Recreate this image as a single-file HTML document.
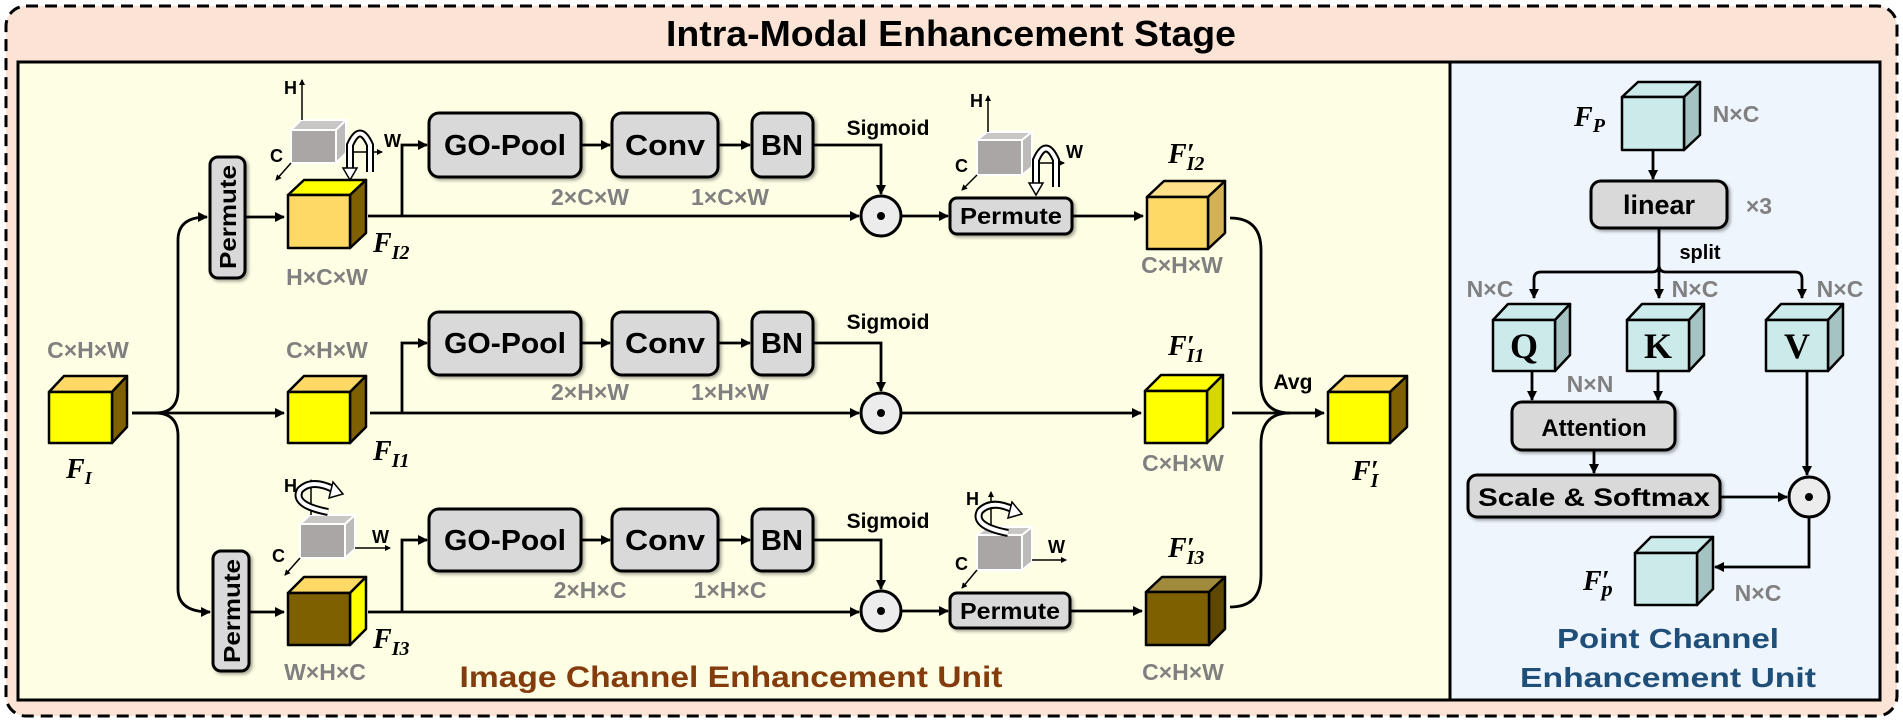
<!DOCTYPE html>
<html><head><meta charset="utf-8"><style>
html,body{margin:0;padding:0;background:#fff;}
svg{display:block;}
.b{font-family:"Liberation Sans",sans-serif;font-weight:bold;}
.g{font-family:"Liberation Sans",sans-serif;font-weight:bold;fill:#808080;font-size:23px;}
.m{font-family:"Liberation Serif",serif;font-weight:bold;font-style:italic;}
.box{fill:#d9d9d9;stroke:#000;stroke-width:3;}
.ln{fill:none;stroke:#000;stroke-width:2.8;}
.ax{fill:none;stroke:#000;stroke-width:1.5;}
</style></head><body>
<svg width="1903" height="724" viewBox="0 0 1903 724" xmlns="http://www.w3.org/2000/svg">
<defs>
<marker id="a" markerWidth="10" markerHeight="10" refX="9" refY="5" orient="auto" markerUnits="userSpaceOnUse"><path d="M0,0 L10,5 L0,10 z" fill="#000"/></marker>
<marker id="s" markerWidth="6" markerHeight="6" refX="5" refY="3" orient="auto" markerUnits="userSpaceOnUse"><path d="M0,0 L6,3 L0,6 z" fill="#000"/></marker>
<filter id="sh" x="-10%" y="-10%" width="130%" height="140%"><feDropShadow dx="2" dy="2" stdDeviation="1.5" flood-color="#000" flood-opacity="0.35"/></filter>
</defs>
<rect x="6" y="6" width="1891" height="710" rx="20" fill="#fbe4d6" stroke="#000" stroke-width="3" stroke-dasharray="12,7"/>
<text x="951" y="46" class="b" font-size="36" text-anchor="middle" textLength="570" lengthAdjust="spacingAndGlyphs">Intra-Modal Enhancement Stage</text>
<rect x="18" y="62" width="1432" height="638" fill="#fefee4" stroke="#000" stroke-width="3"/>
<rect x="1450" y="62" width="430" height="638" fill="#eef5fd" stroke="#000" stroke-width="3"/>

<g stroke="#000" stroke-width="2.5" stroke-linejoin="round">
<polygon points="49,392 64,376 127,376 112,392" fill="#ffd966"/><polygon points="112,392 127,376 127,427 112,443" fill="#7f6000"/><rect x="49" y="392" width="63" height="51" fill="#ffff00"/>
<polygon points="288,195 304,180 366,180 350,195" fill="#ffff00"/><polygon points="350,195 366,180 366,233 350,248" fill="#7f6000"/><rect x="288" y="195" width="62" height="53" fill="#ffd966"/>
<polygon points="288,392 304,376 366,376 350,392" fill="#ffd966"/><polygon points="350,392 366,376 366,427 350,443" fill="#7f6000"/><rect x="288" y="392" width="62" height="51" fill="#ffff00"/>
<polygon points="288,593 304,577 366,577 350,593" fill="#ffd966"/><polygon points="350,593 366,577 366,629 350,645" fill="#ffff00"/><rect x="288" y="593" width="62" height="52" fill="#7f6000"/>
<polygon points="1147,197 1164,181 1225,181 1208,197" fill="#ffe08a"/><polygon points="1208,197 1225,181 1225,233 1208,249" fill="#d4b056"/><rect x="1147" y="197" width="61" height="52" fill="#ffd966"/>
<polygon points="1145,391 1161,375 1223,375 1207,391" fill="#ffff00"/><polygon points="1207,391 1223,375 1223,427 1207,443" fill="#d6d600"/><rect x="1145" y="391" width="62" height="52" fill="#ffff00"/>
<polygon points="1146,592 1162,577 1225,577 1209,592" fill="#a08a3c"/><polygon points="1209,592 1225,577 1225,629 1209,645" fill="#5e4700"/><rect x="1146" y="592" width="63" height="53" fill="#7f6000"/>
<polygon points="1328,392 1345,376 1407,376 1390,392" fill="#ffd966"/><polygon points="1390,392 1407,376 1407,427 1390,443" fill="#7f6000"/><rect x="1328" y="392" width="62" height="51" fill="#ffff00"/>
</g>
<g stroke="#fff" stroke-width="2">
<polygon points="291,130 301,120 346,120 336,130" fill="#c9c6c6"/><polygon points="336,130 346,120 346,153 336,163" fill="#bdbaba"/><rect x="291" y="130" width="45" height="33" fill="#aaa6a6"/>
<polygon points="977,140 987,132 1032,132 1022,140" fill="#c9c6c6"/><polygon points="1022,140 1032,132 1032,167 1022,175" fill="#bdbaba"/><rect x="977" y="140" width="45" height="35" fill="#aaa6a6"/>
<polygon points="300,524 310,515 355,515 345,524" fill="#c9c6c6"/><polygon points="345,524 355,515 355,549 345,558" fill="#bdbaba"/><rect x="300" y="524" width="45" height="34" fill="#aaa6a6"/>
<polygon points="977,535 987,527 1032,527 1022,535" fill="#c9c6c6"/><polygon points="1022,535 1032,527 1032,562 1022,570" fill="#bdbaba"/><rect x="977" y="535" width="45" height="35" fill="#aaa6a6"/>
</g>
<g class="ax">
<path d="M302,120 V80" marker-end="url(#s)"/><path d="M291,163 L276,180" marker-end="url(#s)"/><path d="M346,152 H382" marker-end="url(#s)"/>
<path d="M988,132 V96" marker-end="url(#s)"/><path d="M977,175 L962,190" marker-end="url(#s)"/><path d="M1032,163 H1064" marker-end="url(#s)"/>
<path d="M311,515 V480" marker-end="url(#s)"/><path d="M300,558 L285,575" marker-end="url(#s)"/><path d="M355,548 H390" marker-end="url(#s)"/>
<path d="M991,527 V492" marker-end="url(#s)"/><path d="M977,570 L962,588" marker-end="url(#s)"/><path d="M1032,560 H1066" marker-end="url(#s)"/>
</g>
<g class="b" font-size="18">
<text x="284" y="94">H</text><text x="270" y="162">C</text><text x="384" y="147">W</text>
<text x="970" y="107">H</text><text x="955" y="172">C</text><text x="1066" y="158">W</text>
<text x="284" y="492">H</text><text x="272" y="562">C</text><text x="372" y="543">W</text>
<text x="966" y="505">H</text><text x="955" y="570">C</text><text x="1048" y="553">W</text>
</g>
<g fill="none" stroke-linecap="butt">
<path d="M350,170 V145 Q360,122 370,145 V172" stroke="#000" stroke-width="8"/><path d="M350,170 V145 Q360,122 370,145 V172" stroke="#fff" stroke-width="4"/>
<path d="M1036,185 V160 Q1046,137 1056,160 V187" stroke="#000" stroke-width="8"/><path d="M1036,185 V160 Q1046,137 1056,160 V187" stroke="#fff" stroke-width="4"/>
<path d="M328,512 Q292,505 300,490 Q312,478 335,490" stroke="#000" stroke-width="8"/><path d="M328,512 Q292,505 300,490 Q312,478 335,490" stroke="#fff" stroke-width="4"/>
<path d="M1008,533 Q972,526 980,511 Q992,499 1014,510" stroke="#000" stroke-width="8"/><path d="M1008,533 Q972,526 980,511 Q992,499 1014,510" stroke="#fff" stroke-width="4"/>
</g>
<g fill="#fff" stroke="#000" stroke-width="1.5">
<polygon points="343,168 357,168 350,180"/><polygon points="1029,183 1043,183 1036,195"/>
<polygon points="333,482 343,494 329,498"/><polygon points="1012,502 1022,514 1008,518"/>
</g>

<g filter="url(#sh)">
<rect x="210" y="157" width="35" height="121" rx="8" class="box"/>
<rect x="213" y="551" width="36" height="120" rx="8" class="box"/>
<rect x="429" y="113" width="152" height="64" rx="10" class="box"/><rect x="612" y="113" width="106" height="64" rx="10" class="box"/><rect x="752" y="113" width="61" height="64" rx="10" class="box"/>
<rect x="429" y="312" width="152" height="63" rx="10" class="box"/><rect x="612" y="312" width="106" height="63" rx="10" class="box"/><rect x="752" y="312" width="61" height="63" rx="10" class="box"/>
<rect x="429" y="509" width="152" height="62" rx="10" class="box"/><rect x="612" y="509" width="106" height="62" rx="10" class="box"/><rect x="752" y="509" width="61" height="62" rx="10" class="box"/>
<rect x="950" y="198" width="122" height="36" rx="7" class="box"/>
<rect x="950" y="593" width="120" height="35" rx="7" class="box"/>
</g>
<g class="b" font-size="29" text-anchor="middle">
<text x="505" y="155" textLength="122" lengthAdjust="spacingAndGlyphs">GO-Pool</text><text x="665" y="155" textLength="80" lengthAdjust="spacingAndGlyphs">Conv</text><text x="782" y="155">BN</text>
<text x="505" y="353" textLength="122" lengthAdjust="spacingAndGlyphs">GO-Pool</text><text x="665" y="353" textLength="80" lengthAdjust="spacingAndGlyphs">Conv</text><text x="782" y="353">BN</text>
<text x="505" y="550" textLength="122" lengthAdjust="spacingAndGlyphs">GO-Pool</text><text x="665" y="550" textLength="80" lengthAdjust="spacingAndGlyphs">Conv</text><text x="782" y="550">BN</text>
</g>
<g class="b" font-size="23" text-anchor="middle">
<text x="1011" y="224" textLength="102" lengthAdjust="spacingAndGlyphs">Permute</text>
<text x="1010" y="619" textLength="100" lengthAdjust="spacingAndGlyphs">Permute</text>
<text transform="translate(236,217) rotate(-90)" textLength="104" lengthAdjust="spacingAndGlyphs">Permute</text>
<text transform="translate(240,611) rotate(-90)" textLength="104" lengthAdjust="spacingAndGlyphs">Permute</text>
</g>
<g class="b" font-size="21" text-anchor="middle">
<text x="888" y="135">Sigmoid</text><text x="888" y="329">Sigmoid</text><text x="888" y="528">Sigmoid</text>
<text x="1293" y="389">Avg</text>
</g>
<g class="g" text-anchor="middle">
<text x="88" y="358">C×H×W</text><text x="327" y="358">C×H×W</text>
<text x="327" y="285">H×C×W</text><text x="325" y="680">W×H×C</text>
<text x="590" y="205">2×C×W</text><text x="730" y="205">1×C×W</text>
<text x="590" y="400">2×H×W</text><text x="730" y="400">1×H×W</text>
<text x="590" y="598">2×H×C</text><text x="730" y="598">1×H×C</text>
<text x="1182" y="273">C×H×W</text><text x="1183" y="471">C×H×W</text><text x="1183" y="680">C×H×W</text>
</g>
<text x="731" y="687" class="b" font-size="30" fill="#843c0c" text-anchor="middle" textLength="543" lengthAdjust="spacingAndGlyphs">Image Channel Enhancement Unit</text>
<g class="m" font-size="28">
<text x="66" y="478">F<tspan font-size="18" dy="6">I</tspan></text>
<text x="373" y="252">F<tspan font-size="20" dy="7">I2</tspan></text>
<text x="373" y="460">F<tspan font-size="20" dy="7">I1</tspan></text>
<text x="373" y="648">F<tspan font-size="20" dy="7">I3</tspan></text>
<text x="1168" y="163">F′<tspan font-size="20" dy="7" dx="-8">I2</tspan></text>
<text x="1168" y="355">F′<tspan font-size="20" dy="7" dx="-8">I1</tspan></text>
<text x="1168" y="557">F′<tspan font-size="20" dy="7" dx="-8">I3</tspan></text>
<text x="1352" y="480">F′<tspan font-size="20" dy="7" dx="-8">I</tspan></text>
<text x="1574" y="126">F<tspan font-size="20" dy="6">P</tspan></text>
<text x="1583" y="590">F′<tspan font-size="22" dy="6" dx="-8">p</tspan></text>
</g>
<g stroke="#000" stroke-width="3" fill="#ececec">
<circle cx="881" cy="216" r="20"/><circle cx="881" cy="413" r="20"/><circle cx="881" cy="611" r="20"/><circle cx="1809" cy="497" r="20"/>
</g>
<g fill="#000"><circle cx="881" cy="216" r="4"/><circle cx="881" cy="413" r="4"/><circle cx="881" cy="611" r="4"/><circle cx="1809" cy="497" r="4"/></g>

<g class="ln">
<path d="M132,413 H155 Q178,413 178,390 V240 Q178,217 207,217" marker-end="url(#a)"/>
<path d="M155,413 Q178,413 178,436 V589 Q178,612 210,612" marker-end="url(#a)"/>
<path d="M132,413 H284" marker-end="url(#a)"/>
<path d="M245,217 H284" marker-end="url(#a)"/>
<path d="M249,612 H284" marker-end="url(#a)"/>
<path d="M368,216 H859" marker-end="url(#a)"/><path d="M402,216 V145 H427" marker-end="url(#a)"/>
<path d="M370,413 H859" marker-end="url(#a)"/><path d="M402,413 V343 H427" marker-end="url(#a)"/>
<path d="M368,612 H859" marker-end="url(#a)"/><path d="M402,612 V540 H427" marker-end="url(#a)"/>
<path d="M581,145 H610" marker-end="url(#a)"/><path d="M718,145 H750" marker-end="url(#a)"/>
<path d="M581,343 H610" marker-end="url(#a)"/><path d="M718,343 H750" marker-end="url(#a)"/>
<path d="M581,540 H610" marker-end="url(#a)"/><path d="M718,540 H750" marker-end="url(#a)"/>
<path d="M813,145 H881 V194" marker-end="url(#a)"/>
<path d="M813,343 H881 V391" marker-end="url(#a)"/>
<path d="M813,540 H881 V589" marker-end="url(#a)"/>
<path d="M901,216 H948" marker-end="url(#a)"/><path d="M1072,216 H1143" marker-end="url(#a)"/>
<path d="M901,413 H1141" marker-end="url(#a)"/>
<path d="M901,611 H948" marker-end="url(#a)"/><path d="M1070,611 H1142" marker-end="url(#a)"/>
<path d="M1230,218 Q1261,218 1261,250 V382 Q1261,413 1290,413"/>
<path d="M1230,607 Q1261,607 1261,575 V444 Q1261,413 1290,413"/>
<path d="M1232,413 H1324" marker-end="url(#a)"/>
</g>

<g stroke="#000" stroke-width="2.5" stroke-linejoin="round">
<polygon points="1622,97 1638,82 1700,82 1684,97" fill="#cdeaea"/><polygon points="1684,97 1700,82 1700,135 1684,150" fill="#a5c3c3"/><rect x="1622" y="97" width="62" height="53" fill="#cdeaea"/>
<polygon points="1493,320 1508,304 1570,304 1555,320" fill="#cdeaea"/><polygon points="1555,320 1570,304 1570,355 1555,371" fill="#a5c3c3"/><rect x="1493" y="320" width="62" height="51" fill="#cdeaea"/>
<polygon points="1627,320 1642,304 1704,304 1689,320" fill="#cdeaea"/><polygon points="1689,320 1704,304 1704,355 1689,371" fill="#a5c3c3"/><rect x="1627" y="320" width="62" height="51" fill="#cdeaea"/>
<polygon points="1766,320 1781,304 1843,304 1828,320" fill="#cdeaea"/><polygon points="1828,320 1843,304 1843,355 1828,371" fill="#a5c3c3"/><rect x="1766" y="320" width="62" height="51" fill="#cdeaea"/>
<polygon points="1635,553 1651,537 1713,537 1697,553" fill="#cdeaea"/><polygon points="1697,553 1713,537 1713,589 1697,605" fill="#a5c3c3"/><rect x="1635" y="553" width="62" height="52" fill="#cdeaea"/>
</g>
<g font-family="Liberation Serif,serif" font-weight="bold" font-size="36" text-anchor="middle">
<text x="1524" y="358">Q</text><text x="1658" y="358">K</text><text x="1797" y="358">V</text>
</g>
<g filter="url(#sh)">
<rect x="1591" y="181" width="136" height="47" rx="10" class="box"/>
<rect x="1512" y="402" width="163" height="48" rx="10" class="box"/>
<rect x="1468" y="475" width="252" height="42" rx="9" class="box"/>
</g>
<g class="b" text-anchor="middle">
<text x="1659" y="214" font-size="27">linear</text>
<text x="1594" y="436" font-size="24">Attention</text>
<text x="1594" y="506" font-size="25" textLength="232" lengthAdjust="spacingAndGlyphs">Scale &amp; Softmax</text>
<text x="1700" y="259" font-size="20">split</text>
</g>
<g class="g" text-anchor="middle">
<text x="1736" y="122">N×C</text><text x="1759" y="214">×3</text>
<text x="1490" y="297">N×C</text><text x="1695" y="297">N×C</text><text x="1840" y="297">N×C</text>
<text x="1590" y="392">N×N</text><text x="1758" y="601">N×C</text>
</g>
<g class="ln">
<path d="M1653,150 V179" marker-end="url(#a)"/>
<path d="M1659,228 V265 Q1659,272 1652,272 H1541 Q1534,272 1534,279 V298" marker-end="url(#a)"/>
<path d="M1659,265 V298" marker-end="url(#a)"/>
<path d="M1659,265 Q1659,272 1666,272 H1795 Q1802,272 1802,279 V298" marker-end="url(#a)"/>
<path d="M1532,371 V400" marker-end="url(#a)"/><path d="M1658,371 V400" marker-end="url(#a)"/>
<path d="M1594,450 V473" marker-end="url(#a)"/>
<path d="M1720,497 H1787" marker-end="url(#a)"/>
<path d="M1807,371 V475" marker-end="url(#a)"/>
<path d="M1809,517 V567 H1715" marker-end="url(#a)"/>
</g>
<g class="b" font-size="28" fill="#1f4e79" text-anchor="middle">
<text x="1668" y="648" textLength="222" lengthAdjust="spacingAndGlyphs">Point Channel</text>
<text x="1668" y="687" textLength="296" lengthAdjust="spacingAndGlyphs">Enhancement Unit</text>
</g>
</svg>
</body></html>
